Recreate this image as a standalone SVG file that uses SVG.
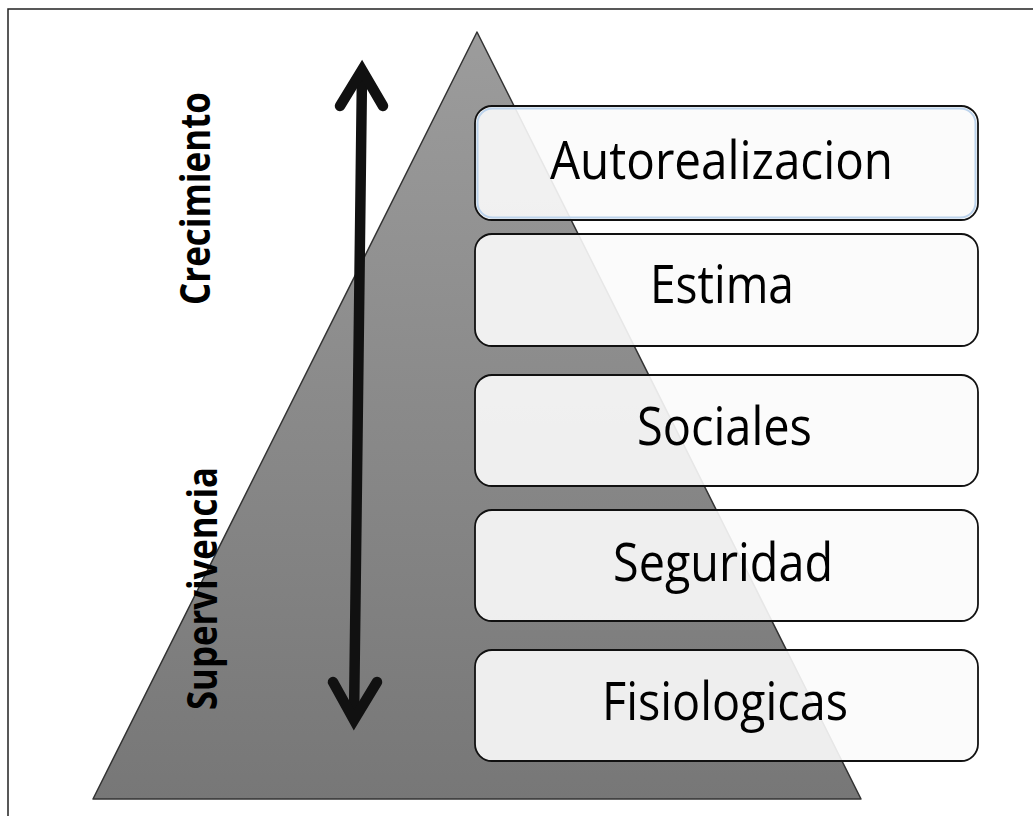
<svg xmlns="http://www.w3.org/2000/svg" width="1033" height="816" viewBox="0 0 1033 816">
<defs>
<linearGradient id="tri" x1="0" y1="0" x2="0" y2="1">
<stop offset="0" stop-color="#9c9c9c"/>
<stop offset="1" stop-color="#777777"/>
</linearGradient>
<style>
.box{fill:#fbfbfb;fill-opacity:0.9;stroke:#111;stroke-width:1.8}
.lbl{font-family:"Open Sans","Liberation Sans",sans-serif;font-size:53px;fill:#000}
.side{font-family:"Open Sans","Liberation Sans",sans-serif;font-size:41px;font-weight:bold;fill:#000}
.arr{fill:none;stroke:#111;stroke-width:10.5;stroke-linecap:round;stroke-linejoin:miter;stroke-miterlimit:10}
</style>
</defs>
<rect width="1033" height="816" fill="#fff"/>
<path d="M8 816 V9 H1033" fill="none" stroke="#222" stroke-width="1.5"/>
<g id="pyramid">
<polygon points="477,32 93,799 861,799" fill="url(#tri)" stroke="#333" stroke-width="1.5" stroke-linejoin="round"/>
</g>
<g id="label-crecimiento">
<text class="side" transform="translate(210,305) rotate(-90)" textLength="213" lengthAdjust="spacingAndGlyphs">Crecimiento</text>
</g>
<g id="label-supervivencia">
<text class="side" transform="translate(217,710) rotate(-90)" textLength="243" lengthAdjust="spacingAndGlyphs">Supervivencia</text>
</g>
<g id="connectors">
<line class="arr" x1="362" y1="74" x2="354" y2="718"/>
<polyline class="arr" points="340,106 362,70 383,106"/>
<polyline class="arr" points="333,682 354,720 377,682"/>
</g>
<g id="autorealizacion">
<rect class="box" x="475" y="106" width="503" height="114" rx="17"/>
<rect x="477.5" y="108.5" width="498" height="109" rx="15" fill="none" stroke="#bcd3ec" stroke-width="2"/>
<text class="lbl" x="550" y="179" textLength="343" lengthAdjust="spacingAndGlyphs">Autorealizacion</text>
</g>
<g id="estima">
<rect class="box" x="475" y="234" width="503" height="112" rx="17"/>
<text class="lbl" x="650" y="303" textLength="144" lengthAdjust="spacingAndGlyphs">Estima</text>
</g>
<g id="sociales">
<rect class="box" x="475" y="375" width="503" height="111" rx="17"/>
<text class="lbl" x="637" y="445" textLength="175" lengthAdjust="spacingAndGlyphs">Sociales</text>
</g>
<g id="seguridad">
<rect class="box" x="475" y="510" width="503" height="111" rx="17"/>
<text class="lbl" x="613" y="581" textLength="220" lengthAdjust="spacingAndGlyphs">Seguridad</text>
</g>
<g id="fisiologicas">
<rect class="box" x="475" y="650" width="503" height="111" rx="17"/>
<text class="lbl" x="602" y="720" textLength="246" lengthAdjust="spacingAndGlyphs">Fisiologicas</text>
</g>
</svg>
